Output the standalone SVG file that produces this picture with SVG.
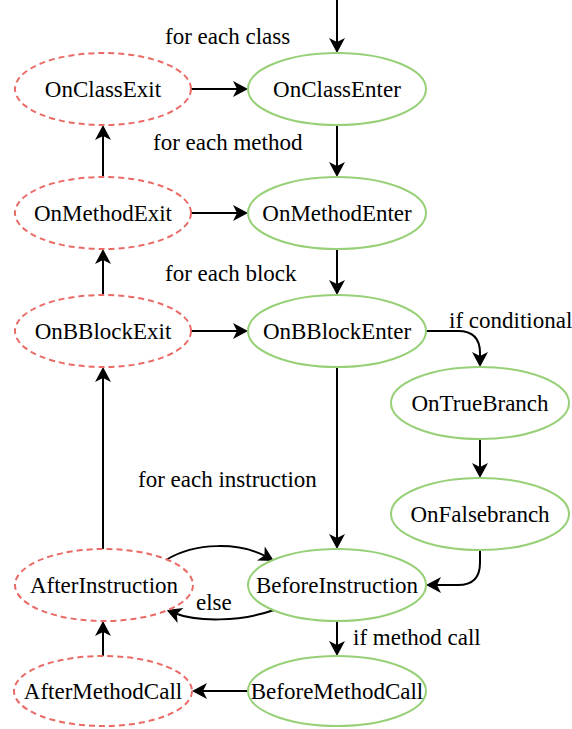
<svg xmlns="http://www.w3.org/2000/svg" width="572" height="729" viewBox="0 0 572 729">
<style>
text{font-family:"Liberation Serif","Times New Roman",serif;font-size:23px;fill:#000}
.n text{text-anchor:middle}
.enter ellipse{fill:#fff;stroke:#97D077;stroke-width:2}
.exit ellipse{fill:#fff;stroke:#EA6B66;stroke-width:2;stroke-dasharray:6 4}
.e path{fill:none;stroke:#000;stroke-width:2;marker-end:url(#arr)}
</style>
<defs>
<marker id="arr" markerUnits="userSpaceOnUse" markerWidth="20" markerHeight="20" viewBox="-10 -10 20 20" refX="0" refY="0" orient="auto">
<path d="M8,0 L-7,-8 L-3,0 L-7,8 Z" fill="#000"/>
</marker>
</defs>
<rect width="572" height="729" fill="#fff"/>
<g id="edges" class="e">
<path d="M337,0 L337,45"/>
<path d="M191,89 L240,89"/>
<path d="M337,125 L337,169"/>
<path d="M103,177 L103,133"/>
<path d="M191,213 L240,213"/>
<path d="M337,249 L337,287"/>
<path d="M103,295 L103,257"/>
<path d="M191,331 L240,331"/>
<path d="M426,331 L458,331 Q480,331 480,353 L480,359"/>
<path d="M480,439 L480,470"/>
<path d="M480,550 L480,563 Q480,585 458,585 L434,585"/>
<path d="M337,367 L337,541"/>
<path d="M103,549 L103,375"/>
<path d="M166,560 C195,542 240,542 267,557"/>
<path d="M274,610 C240,622 197,622 174,613"/>
<path d="M337,621 L337,648"/>
<path d="M248,691 L200,691"/>
<path d="M103,656 L103,629"/>
</g>
<g id="labels">
<text x="165" y="44">for each class</text>
<text x="153" y="150">for each method</text>
<text x="165" y="281">for each block</text>
<text x="449" y="328">if conditional</text>
<text x="138" y="487">for each instruction</text>
<text x="196" y="610">else</text>
<text x="353" y="645">if method call</text>
</g>
<g id="OnClassExit" class="n exit"><ellipse cx="103" cy="89" rx="88" ry="36"/><text x="103" y="97">OnClassExit</text></g>
<g id="OnClassEnter" class="n enter"><ellipse cx="337" cy="89" rx="89" ry="36"/><text x="337" y="97">OnClassEnter</text></g>
<g id="OnMethodExit" class="n exit"><ellipse cx="103" cy="213" rx="88" ry="36"/><text x="103" y="221">OnMethodExit</text></g>
<g id="OnMethodEnter" class="n enter"><ellipse cx="337" cy="213" rx="89" ry="36"/><text x="337" y="221">OnMethodEnter</text></g>
<g id="OnBBlockExit" class="n exit"><ellipse cx="103" cy="331" rx="88" ry="36"/><text x="103" y="339">OnBBlockExit</text></g>
<g id="OnBBlockEnter" class="n enter"><ellipse cx="337" cy="331" rx="89" ry="36"/><text x="337" y="339">OnBBlockEnter</text></g>
<g id="OnTrueBranch" class="n enter"><ellipse cx="480" cy="403" rx="89" ry="36"/><text x="480" y="411">OnTrueBranch</text></g>
<g id="OnFalsebranch" class="n enter"><ellipse cx="480" cy="514" rx="89" ry="36"/><text x="480" y="522">OnFalsebranch</text></g>
<g id="AfterInstruction" class="n exit"><ellipse cx="104" cy="585" rx="89" ry="36"/><text x="104" y="593">AfterInstruction</text></g>
<g id="BeforeInstruction" class="n enter"><ellipse cx="337" cy="585" rx="89" ry="36"/><text x="337" y="593">BeforeInstruction</text></g>
<g id="AfterMethodCall" class="n exit"><ellipse cx="103" cy="691" rx="89" ry="35"/><text x="103" y="699">AfterMethodCall</text></g>
<g id="BeforeMethodCall" class="n enter"><ellipse cx="337" cy="691" rx="89" ry="35"/><text x="337" y="699">BeforeMethodCall</text></g>
</svg>
